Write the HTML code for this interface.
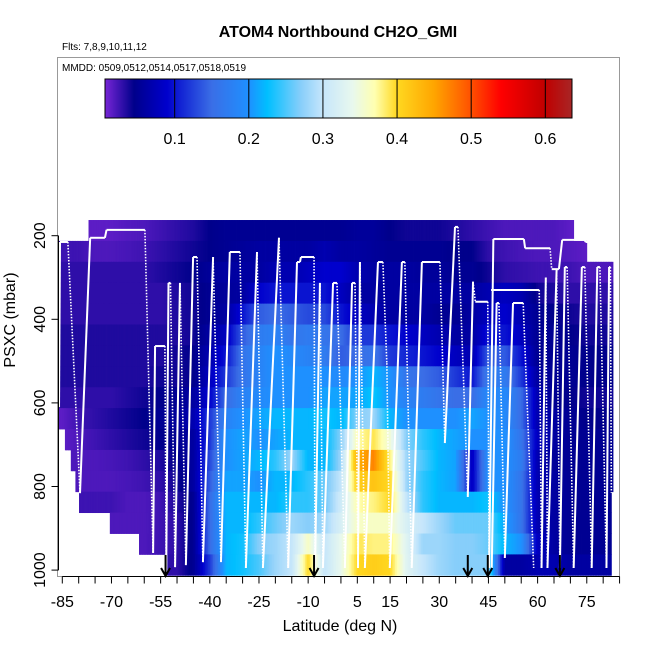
<!DOCTYPE html>
<html><head><meta charset="utf-8"><style>
html,body{margin:0;padding:0;background:#fff;}
svg{display:block;font-family:"Liberation Sans",sans-serif;}
</style></head><body>
<svg id="chart" width="650" height="650" viewBox="0 0 650 650" xmlns="http://www.w3.org/2000/svg">
<rect x="0" y="0" width="650" height="650" fill="#fff"/>
<text x="338" y="37" text-anchor="middle" font-size="16" font-weight="bold">ATOM4 Northbound CH2O_GMI</text>
<text x="62" y="50" font-size="10">Flts: 7,8,9,10,11,12</text>
<rect x="57.5" y="57.5" width="562" height="519" fill="none" stroke="#999" stroke-width="1"/>
<text x="62" y="71" font-size="10">MMDD: 0509,0512,0514,0517,0518,0519</text>
<g id="heat"></g>
<g id="track"></g>
<g id="arrows"></g>
<g id="cbar"></g>
<g id="axes"></g>
<text x="340" y="631" text-anchor="middle" font-size="16">Latitude (deg N)</text>
<text transform="translate(15,320) rotate(-90)" text-anchor="middle" font-size="16">PSXC (mbar)</text>
</svg>
<script>
// ---- data ----
const colLats = [-85,-80,-75,-70,-65,-60,-55,-50,-45,-40,-35,-30,-25,-20,-15,-10,-5,0,5,10,15,20,25,30,35,40,45,50,55,60,65,70,75,80];
const rowPressures = [187.5,237.5,287.5,337.5,387.5,437.5,487.5,537.5,587.5,637.5,687.5,737.5,787.5,837.5,887.5,937.5,987.5];
const rowStartLat = [-77,-86,-86,-86,-86,-86,-86,-86,-86,-86,-84.2,-82.4,-81,-79.9,-70.5,-61.6,-53];
const rowEndLat = [71,75,83,83,83,83,83,83,83,83,83,83,83,82.5,82.5,82.5,82.5];
const row0 = [null,null,.015,.015,.018,.02,.025,.03,.035,.045,.05,.05,.05,.05,.05,.05,.05,.05,.055,.055,.045,.04,.04,.04,.035,.03,.025,.02,.02,.02,.02,.015,null,null];
const row1 = [.025,.025,.02,.02,.022,.025,.03,.035,.04,.045,.05,.055,.06,.06,.06,.06,.07,.06,.06,.055,.05,.05,.05,.05,.045,.045,.03,.025,.022,.02,.02,.018,.015,null];
const row2 = [.03,.03,.03,.03,.03,.03,.035,.04,.045,.055,.06,.06,.06,.07,.07,.08,.09,.09,.07,.06,.06,.06,.055,.055,.05,.05,.04,.03,.028,.025,.025,.025,.02,.02];
const row3 = [.03,.03,.03,.03,.03,.03,.03,.035,.04,.05,.055,.06,.09,.1,.1,.1,.1,.08,.06,.06,.06,.06,.06,.06,.06,.06,.07,.08,.07,.04,.035,.03,.03,.03];
const row4 = [.03,.03,.03,.03,.03,.03,.03,.035,.04,.05,.06,.1,.14,.15,.14,.13,.13,.1,.08,.07,.06,.06,.06,.05,.05,.06,.08,.09,.07,.05,.045,.04,.035,.035];
const row5 = [.035,.035,.035,.035,.035,.035,.035,.035,.04,.06,.08,.14,.17,.18,.16,.17,.16,.15,.12,.12,.1,.09,.08,.07,.06,.06,.1,.1,.08,.05,.05,.045,.04,.04];
const row6 = [.035,.035,.035,.035,.035,.035,.035,.04,.045,.07,.1,.16,.18,.2,.19,.18,.17,.14,.15,.16,.12,.11,.1,.09,.08,.07,.14,.14,.1,.05,.05,.05,.045,.045];
const row7 = [.035,.035,.035,.035,.035,.035,.04,.04,.045,.08,.12,.16,.18,.2,.2,.2,.2,.19,.2,.22,.2,.16,.15,.14,.12,.1,.17,.17,.12,.06,.05,.05,.045,.045];
const row8 = [.03,.03,.03,.03,.035,.04,.045,.05,.06,.09,.15,.18,.19,.2,.2,.2,.21,.21,.21,.23,.2,.18,.17,.16,.15,.15,.19,.19,.15,.07,.05,.045,.04,.04];
const row9 = [.015,.025,.03,.035,.04,.045,.05,.055,.07,.12,.18,.2,.21,.22,.22,.22,.23,.22,.27,.28,.22,.2,.2,.2,.2,.21,.2,.19,.15,.07,.06,.05,.045,.045];
const row10 = [.015,.02,.025,.03,.035,.04,.045,.05,.06,.12,.2,.21,.2,.21,.22,.22,.22,.27,.37,.39,.35,.27,.24,.22,.21,.2,.2,.2,.16,.08,.06,.05,.05,.05];
const row11 = [null,.02,.02,.022,.025,.03,.035,.045,.06,.13,.2,.21,.22,.24,.28,.22,.22,.28,.44,.47,.38,.28,.25,.22,.21,.08,.2,.2,.17,.07,.055,.05,.05,.05];
const row12 = [null,.02,.02,.02,.022,.025,.03,.04,.06,.14,.21,.21,.2,.22,.22,.24,.26,.3,.41,.42,.4,.28,.24,.22,.21,.08,.2,.2,.16,.07,.06,.05,.05,.05];
const row13 = [null,.025,.025,.025,.02,.02,.025,.035,.05,.15,.22,.22,.22,.22,.24,.24,.26,.31,.37,.38,.4,.3,.24,.22,.22,.22,.23,.2,.16,.07,.06,.05,.05,.05];
const row14 = [null,null,null,.02,.02,.02,.025,.03,.05,.15,.22,.22,.24,.26,.28,.27,.28,.32,.36,.36,.36,.32,.3,.28,.26,.26,.26,.21,.16,.07,.06,.05,.05,.05];
const row15 = [null,null,null,null,null,.02,.025,.03,.05,.15,.22,.23,.27,.28,.3,.36,.3,.34,.39,.38,.38,.33,.28,.28,.27,.27,.26,.22,.2,.08,.06,.05,.05,.05];
const row16 = [null,null,null,null,null,null,.03,.03,.05,.12,.22,.23,.25,.28,.3,.4,.3,.34,.4,.41,.4,.33,.3,.28,.27,.27,.27,.06,.06,.07,.07,.06,.06,.06];
const gridValues = [row0,row1,row2,row3,row4,row5,row6,row7,row8,row9,row10,row11,row12,row13,row14,row15,row16];

const trackLat = [-86,-85.7,-83.3,-79.6,-76.5,-72,-71.5,-59.8,-57.3,-56.7,-53.7,-53.3,-52.6,-52,-50.6,-49.1,-47.3,-45.1,-43.9,-42.1,-39,-36.6,-33.9,-30.8,-29,-25.6,-23.8,-18.9,-16.1,-13.4,-12.5,-12.2,-8.2,-7.9,-6.4,-5.5,-2.4,-1.2,1.2,3.4,4.3,5.2,5.8,7.3,11.3,12.8,14,14.9,18.6,19.5,21.6,24.7,30.2,31.7,34.8,35.7,38.7,40.3,41,44.8,45.2,46.5,55.8,56.2,63.8,64.3,66.5,67.5,74.4,74.6,77.5,null,45.8,60.5,61.2,62.5,63,65.8,66.8,68.3,69,71,73.5,74.4,76.5,78.2,79,81,81.8,82.2,82.5,null,46,47.5,48.2,50,52.5,55.6,58.8];
const trackP = [610,215,215,816,205,205,186,186,959,464,464,1000,313,313,993,313,988,251,251,981,251,981,239,239,995,239,995,205,995,263,263,251,251,995,313,995,313,313,995,313,313,995,263,995,263,263,505,995,263,263,995,263,263,696,179,179,825,310,358,358,995,208,208,230,230,280,280,210,210,215,215,null,330,330,995,300,995,280,995,275,275,995,275,275,995,275,275,995,275,275,815,null,995,361,361,971,361,361,995];

const arrowLats = [-53.5,-8.2,38.7,44.8,66.8];
const xTickValues = [-85,-80,-75,-70,-65,-60,-55,-50,-45,-40,-35,-30,-25,-20,-15,-10,-5,0,5,10,15,20,25,30,35,40,45,50,55,60,65,70,75,80,85];
const xTickLabels = [-85,-70,-55,-40,-25,-10,5,15,30,45,60,75];
const yTickLabels = [200,400,600,800,1000];
const cbarTicks = [0.1,0.2,0.3,0.4,0.5,0.6];
const cbarMin = 0.006, cbarMax = 0.636;

// ---- scales ----
const NS = 'http://www.w3.org/2000/svg';
function xS(lat){ return 62.3 + (lat + 85) * 3.278; }
function yS(p){ return 235.7 + (p - 200) * 0.418; }
function cbX(v){ return 105 + (v - cbarMin) / (cbarMax - cbarMin) * 467; }
const stops = [[0,'#8a2be2'],[0.045,'#00008b'],[0.09,'#0000cd'],[0.1,'#0a14d0'],[0.15,'#3a6ee6'],[0.2,'#1e90ff'],[0.225,'#00bfff'],[0.27,'#87cefa'],[0.3,'#c6e6fb'],[0.34,'#e8f8ee'],[0.37,'#ffffb0'],[0.4,'#ffd820'],[0.45,'#ffa500'],[0.5,'#ff5000'],[0.54,'#ff0000'],[0.6,'#c00000'],[0.64,'#a52a2a']];
function hx(c){ return [parseInt(c.substr(1,2),16),parseInt(c.substr(3,2),16),parseInt(c.substr(5,2),16)]; }
function colorOf(v){
  if (v <= stops[0][0]) return stops[0][1];
  for (let i=1;i<stops.length;i++){
    if (v <= stops[i][0]){
      const a=hx(stops[i-1][1]), b=hx(stops[i][1]);
      const t=(v-stops[i-1][0])/(stops[i][0]-stops[i-1][0]);
      return 'rgb('+a.map((q,k)=>Math.round(q+(b[k]-q)*t)).join(',')+')';
    }
  }
  return stops[stops.length-1][1];
}
function mk(tag, attrs, parent){
  const e=document.createElementNS(NS,tag);
  for (const k in attrs) e.setAttribute(k, attrs[k]);
  parent.appendChild(e); return e;
}
function valueAt(row, lat){
  const f=(lat - colLats[0]) / (colLats[1]-colLats[0]);
  let i0=Math.floor(f), i1=i0+1;
  i0=Math.max(0,Math.min(colLats.length-1,i0)); i1=Math.max(0,Math.min(colLats.length-1,i1));
  const a=row[i0], b=row[i1];
  if (a==null && b==null) return null;
  if (a==null) return b; if (b==null) return a;
  const t=Math.max(0,Math.min(1,f-Math.floor(f)));
  return a+(b-a)*t;
}

// ---- heatmap ----
const heat=document.getElementById('heat');
gridValues.forEach((row, r) => {
  const y0=yS(rowPressures[r]-25), y1=yS(rowPressures[r]+25);
  const step=0.5;
  for (let L=rowStartLat[r]; L<rowEndLat[r]; L+=step){
    const L2=Math.min(L+step,rowEndLat[r]);
    const v=valueAt(row, L+step/2);
    if (v==null) continue;
    const rc=mk('rect',{x:xS(L).toFixed(2),y:y0.toFixed(2),width:(xS(L2)-xS(L)+0.4).toFixed(2),height:(y1-y0+0.4).toFixed(2),fill:colorOf(v)},heat);
    
    
  }
});

// ---- track ----
const trk=document.getElementById('track');
for (let i=1;i<trackLat.length;i++){
  if (trackLat[i]==null || trackLat[i-1]==null) continue;
  const desc = trackP[i] > trackP[i-1] + 40 && Math.abs(trackLat[i]-trackLat[i-1]) < 4;
  const ln=mk('line',{x1:xS(trackLat[i-1]),y1:yS(trackP[i-1]),x2:xS(trackLat[i]),y2:yS(trackP[i]),stroke:'#fff','stroke-width':desc?1.6:2,'stroke-dasharray':desc?'1.5 1.5':'none'},trk);
  
  
}

// ---- arrows ----
const arr=document.getElementById('arrows');
arrowLats.forEach(l=>{
  const x=xS(l);
  const g=mk('g',{},arr);
  
  
  mk('line',{x1:x,y1:555,x2:x,y2:575,stroke:'#000','stroke-width':2},g);
  mk('polyline',{points:(x-4.5)+',568 '+x+',576 '+(x+4.5)+',568',fill:'none',stroke:'#000','stroke-width':2},g);
});

// ---- colorbar ----
const cb=document.getElementById('cbar');
for (let px=105; px<572; px+=1){
  const v=cbarMin+(px+0.5-105)/467*(cbarMax-cbarMin);
  mk('rect',{x:px,y:79,width:1.3,height:39,fill:colorOf(v)},cb);
}
mk('rect',{x:105,y:79,width:467,height:39,fill:'none',stroke:'#000','stroke-width':1},cb);
cbarTicks.forEach(t=>{
  const x=cbX(t);
  mk('line',{x1:x,y1:79,x2:x,y2:118,stroke:'#000','stroke-width':1},cb);
  const tx=mk('text',{x:x,y:144,'text-anchor':'middle','font-size':16},cb);
  tx.textContent=t.toFixed(1);
  
  
});

// ---- axes ----
const ax=document.getElementById('axes');
mk('line',{x1:xS(-85),y1:576.5,x2:xS(85),y2:576.5,stroke:'#000','stroke-width':1},ax);
xTickValues.forEach(v=>{
  mk('line',{x1:xS(v),y1:576.5,x2:xS(v),y2:583.5,stroke:'#000','stroke-width':1},ax);
});
xTickLabels.forEach(v=>{
  const t=mk('text',{x:xS(v),y:607,'text-anchor':'middle','font-size':16},ax);
  t.textContent=String(v);
  
  
});
mk('line',{x1:58.5,y1:yS(200),x2:58.5,y2:yS(1000),stroke:'#000','stroke-width':1},ax);
yTickLabels.forEach(v=>{
  const y=yS(v);
  mk('line',{x1:51.5,y1:y,x2:58.5,y2:y,stroke:'#000','stroke-width':1},ax);
  const t=mk('text',{transform:'translate(45,'+y+') rotate(-90)','text-anchor':'middle','font-size':16},ax);
  t.textContent=String(v);
  
  
});
</script>
</body></html>
